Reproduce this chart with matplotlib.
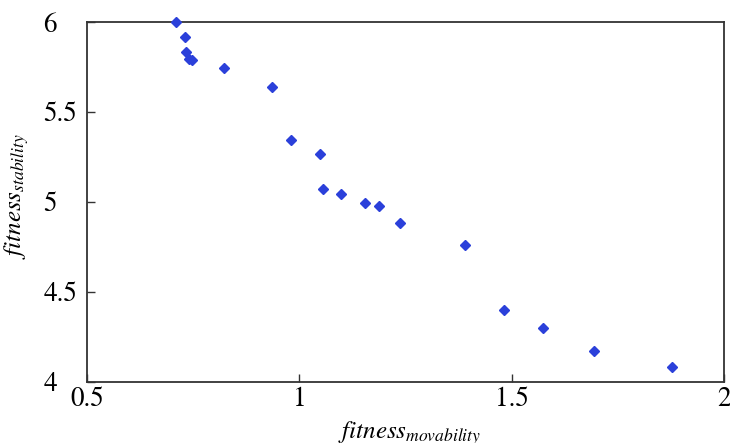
import numpy as np
import matplotlib.pyplot as plt

plt.rcParams['font.family'] = ['STIXGeneral', 'Liberation Serif', 'DejaVu Serif']
plt.rcParams['mathtext.fontset'] = 'stix'

# fitness pairs of the non-dominated solutions
movability = [0.709, 0.730, 0.734, 0.739, 0.748, 0.823, 0.936, 0.980, 1.048,
              1.055, 1.098, 1.154, 1.187, 1.236, 1.391, 1.482, 1.573, 1.695, 1.878]
stability = [6.000, 5.916, 5.833, 5.794, 5.788, 5.744, 5.638, 5.343, 5.265,
             5.070, 5.042, 4.992, 4.975, 4.880, 4.758, 4.396, 4.295, 4.167, 4.078]

xticks = [0.5, 1, 1.5, 2]
xtick_labels = ['0.5', '1', '1.5', '2']
yticks = [4, 4.5, 5, 5.5, 6]
ytick_labels = ['4', '4.5', '5', '5.5', '6']

fig = plt.figure(figsize=(7.3, 4.43), dpi=100)
ax = fig.add_axes([0.1192, 0.1388, 0.8726, 0.8115])

ax.plot(movability, stability, linestyle='none', marker='D', markersize=5.5,
        color='#2b40da', markeredgecolor='#2b40da', clip_on=False, zorder=3)

ax.set_xlim(0.5, 2)
ax.set_ylim(4, 6)
ax.set_xticks(xticks)
ax.set_xticklabels(xtick_labels)
ax.set_yticks(yticks)
ax.set_yticklabels(ytick_labels)

for sp in ax.spines.values():
    sp.set_color('#333333')
    sp.set_linewidth(1.3)

ax.tick_params(direction='in', length=6, width=1.0, color='#333333',
               labelsize=19.5, top=False, right=False)
ax.tick_params(axis='y', pad=31.5)
ax.tick_params(axis='x', pad=4)
for lbl in ax.get_yticklabels():
    lbl.set_horizontalalignment('left')

ax.set_xlabel(r'$\mathit{fitness}_{\mathit{movability}}$', fontsize=18)
ax.set_ylabel(r'$\mathit{fitness}_{\mathit{stability}}$', fontsize=18)
ax.xaxis.set_label_coords(0.507, -0.106)
ax.yaxis.set_label_coords(-0.088, 0.516)

fig.text(0.0877, 1.024, '(a)', fontsize=16, ha='center', va='center')

fig.savefig('out.png', dpi=100)
